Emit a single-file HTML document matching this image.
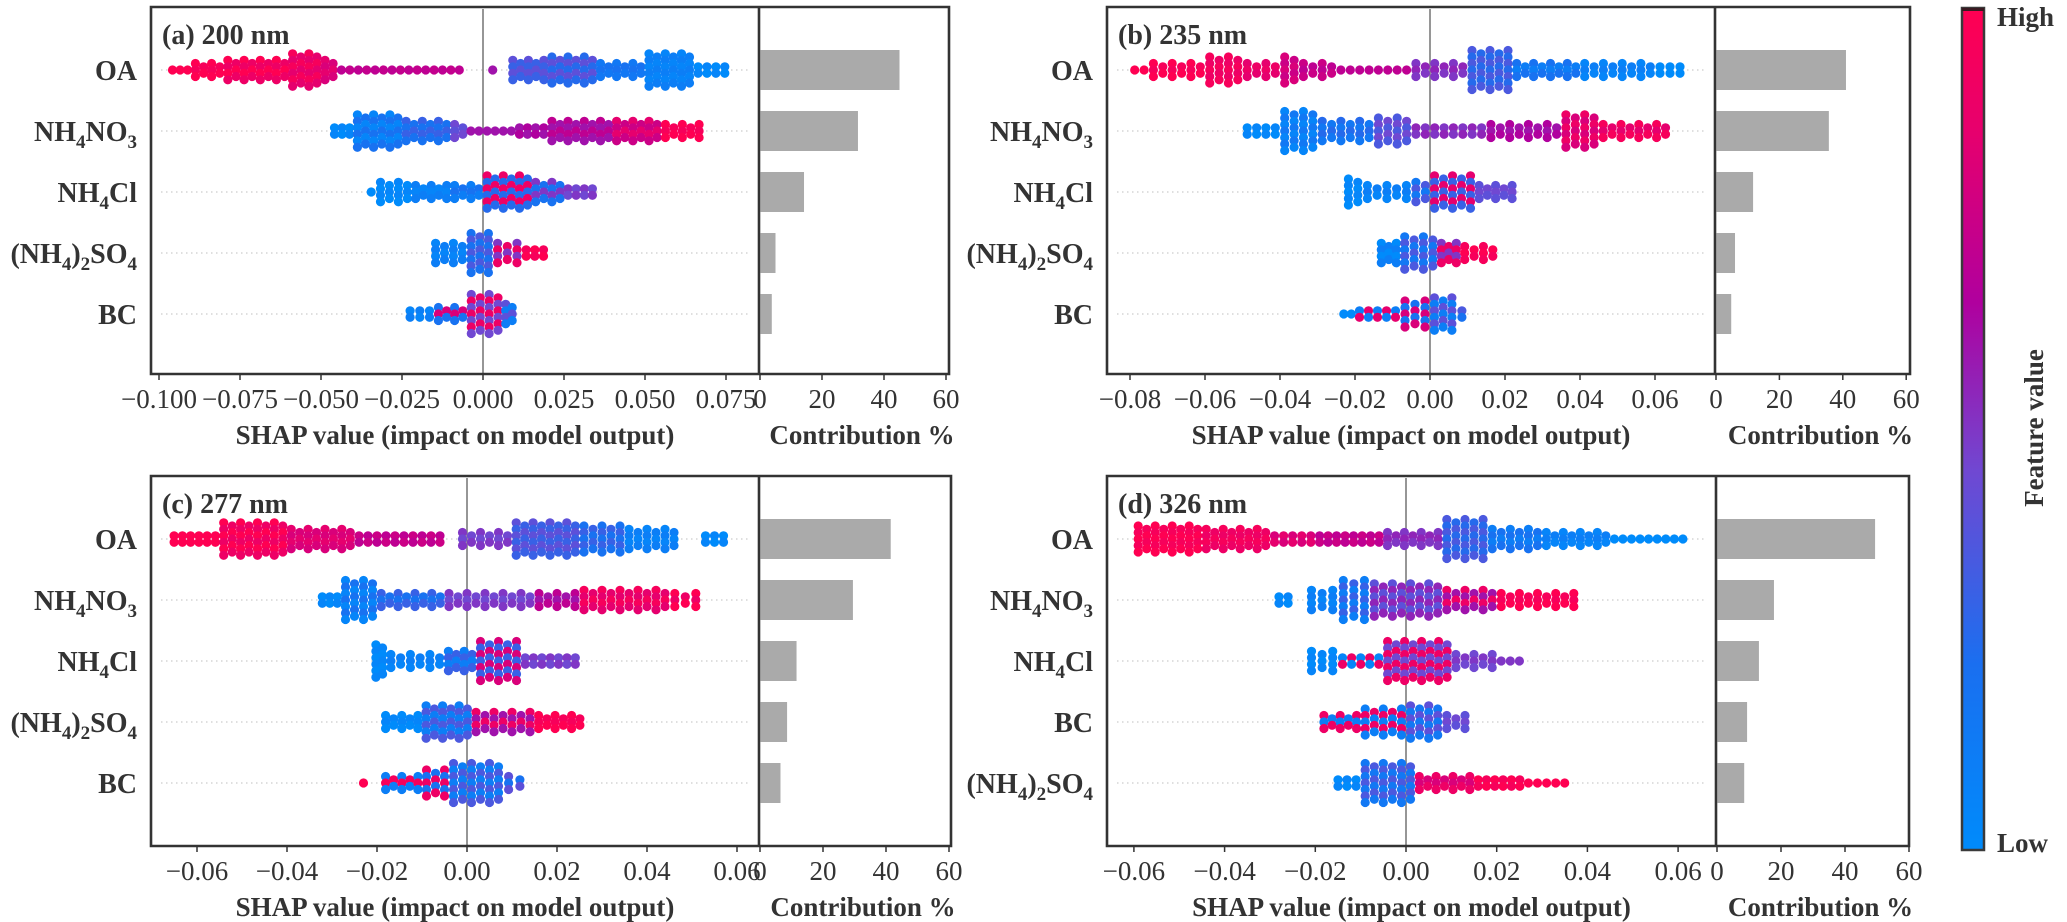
<!DOCTYPE html>
<html><head><meta charset="utf-8">
<style>
html,body{margin:0;padding:0;background:#fff;}
svg{display:block;font-family:"Liberation Serif",serif;}
</style></head>
<body>
<svg id="fig" width="2067" height="922" viewBox="0 0 2067 922" xmlns="http://www.w3.org/2000/svg">
<defs>
<linearGradient id="cmap" x1="0" y1="1" x2="0" y2="0">
<stop offset="0" stop-color="#008bfb"/>
<stop offset="0.22" stop-color="#1a6ff0"/>
<stop offset="0.45" stop-color="#7048d2"/>
<stop offset="0.65" stop-color="#b0009e"/>
<stop offset="0.85" stop-color="#e6006e"/>
<stop offset="1" stop-color="#ff0052"/>
</linearGradient>
</defs>
<g id="root"></g>
<g>
<rect x="1962" y="8" width="22" height="842" fill="url(#cmap)" stroke="#3a3a3a" stroke-width="2.5"/>
<rect x="1962" y="8" width="22" height="3" fill="#3a1a22"/>
<text x="1997" y="26" font-size="27" font-weight="bold" fill="#333">High</text>
<text x="1997" y="852" font-size="27" font-weight="bold" fill="#333">Low</text>
<text x="2043" y="428" font-size="27" font-weight="bold" fill="#333" text-anchor="middle" transform="rotate(-90 2043 428)">Feature value</text>
</g>
</svg>
<script>
// ---------- data ----------
const featuresA = ["OA","NH4NO3","NH4Cl","(NH4)2SO4","BC"];
const featuresB = ["OA","NH4NO3","NH4Cl","(NH4)2SO4","BC"];
const featuresC = ["OA","NH4NO3","NH4Cl","(NH4)2SO4","BC"];
const featuresD = ["OA","NH4NO3","NH4Cl","BC","(NH4)2SO4"];

const contribA = [45, 31.6, 14.2, 5, 3.8];
const contribB = [41, 35.6, 11.7, 6, 4.8];
const contribC = [41.5, 29.5, 11.6, 8.6, 6.5];
const contribD = [49.4, 17.8, 13.1, 9.4, 8.5];

const shapTicksA = [-0.1,-0.075,-0.05,-0.025,0,0.025,0.05,0.075];
const shapTickLabelsA = ["\u22120.100","\u22120.075","\u22120.050","\u22120.025","0.000","0.025","0.050","0.075"];
const shapTicksB = [-0.08,-0.06,-0.04,-0.02,0,0.02,0.04,0.06];
const shapTickLabelsB = ["\u22120.08","\u22120.06","\u22120.04","\u22120.02","0.00","0.02","0.04","0.06"];
const shapTicksC = [-0.06,-0.04,-0.02,0,0.02,0.04,0.06];
const shapTickLabelsC = ["\u22120.06","\u22120.04","\u22120.02","0.00","0.02","0.04","0.06"];
const shapTicksD = [-0.06,-0.04,-0.02,0,0.02,0.04,0.06];
const shapTickLabelsD = ["\u22120.06","\u22120.04","\u22120.02","0.00","0.02","0.04","0.06"];
const contribTicks = [0,20,40,60];

// beeswarm density segments: [shapFrom, shapTo, stackCount, featureValueA, featureValueB]
const swarmA = [
 [[-0.097,-0.09,1,1,1],[-0.09,-0.08,3,1,0.95],[-0.08,-0.06,4,1,0.9],[-0.06,-0.05,6,0.95,0.85],[-0.05,-0.045,4,0.85,0.8],[-0.045,-0.006,1,0.7,0.72],[0.002,0.004,1,0.6,0.6],[0.008,0.02,4,0.4,0.3],[0.02,0.035,5,0.25,0.4],[0.035,0.05,3,0.15,0.2],[0.05,0.065,6,0.05,0.1],[0.065,0.076,2,0,0.05]],
 [[-0.047,-0.04,2,0,0.05],[-0.04,-0.025,6,0.05,0.2],[-0.025,-0.01,4,0.3,0.2],[-0.01,-0.005,3,0.45,0.4],[-0.005,0.01,1,0.6,0.6],[0.01,0.02,2,0.6,0.65],[0.02,0.04,4,0.7,0.6],[0.04,0.055,4,0.85,0.75],[0.055,0.068,3,1,0.95]],
 [[-0.036,-0.033,1,0,0],[-0.033,-0.022,4,0.05,0],[-0.022,-0.01,3,0.1,0.05],[-0.01,0,3,0.1,0.2],[0,0.015,6,0.9,0.25],[0.015,0.025,4,0.5,0.2],[0.025,0.035,2,0.5,0.45]],
 [[-0.016,-0.005,4,0.05,0.1],[-0.005,0.003,7,0.2,0.35],[0.003,0.012,4,0.5,0.9],[0.012,0.02,2,0.95,1]],
 [[-0.024,-0.015,2,0.05,0.1],[-0.015,-0.005,3,0.2,0.8],[-0.005,0.006,7,0.45,0.9],[0.006,0.01,4,0.4,0.1]]
];
const swarmB = [
 [[-0.08,-0.075,1,1,1],[-0.075,-0.06,3,1,0.95],[-0.06,-0.05,5,0.95,0.9],[-0.05,-0.04,3,0.85,0.9],[-0.04,-0.035,5,0.8,0.75],[-0.035,-0.025,3,0.75,0.7],[-0.025,-0.005,1,0.7,0.7],[-0.005,0.01,3,0.5,0.55],[0.01,0.022,7,0.35,0.25],[0.022,0.04,3,0.2,0.1],[0.04,0.06,3,0.05,0.1],[0.06,0.068,2,0,0]],
 [[-0.05,-0.04,2,0,0.05],[-0.04,-0.03,7,0.05,0.15],[-0.03,-0.015,4,0.25,0.15],[-0.015,-0.005,5,0.35,0.45],[-0.005,0.015,2,0.55,0.5],[0.015,0.035,3,0.65,0.6],[0.035,0.045,6,0.9,0.8],[0.045,0.064,3,0.95,0.85]],
 [[-0.023,-0.018,5,0,0.05],[-0.018,-0.005,3,0.05,0.1],[-0.005,0,4,0.15,0.35],[0,0.012,6,0.85,0.3],[0.012,0.023,3,0.4,0.45]],
 [[-0.014,-0.008,4,0,0.1],[-0.008,0.002,6,0.15,0.35],[0.002,0.008,4,0.5,0.9],[0.008,0.018,3,0.95,1]],
 [[-0.024,-0.02,1,0,0],[-0.02,-0.008,2,0.1,0.85],[-0.008,0,5,0.8,0.2],[0,0.007,6,0.4,0.1],[0.007,0.01,2,0.35,0.2]]
];
const swarmC = [
 [[-0.066,-0.055,2,1,1],[-0.055,-0.04,6,1,0.9],[-0.04,-0.025,4,0.85,0.8],[-0.025,-0.005,2,0.75,0.7],[-0.002,0.01,3,0.5,0.45],[0.01,0.025,6,0.4,0.3],[0.025,0.035,5,0.2,0.3],[0.035,0.047,4,0.05,0.1],[0.052,0.058,2,0,0.05]],
 [[-0.033,-0.028,2,0,0.05],[-0.028,-0.02,7,0.05,0.2],[-0.02,-0.005,3,0.3,0.2],[-0.005,0.015,3,0.5,0.45],[0.015,0.025,3,0.7,0.6],[0.025,0.045,4,0.95,0.85],[0.045,0.052,3,1,0.9]],
 [[-0.021,-0.018,6,0,0.05],[-0.018,-0.005,3,0.05,0.1],[-0.005,0.002,4,0.1,0.3],[0.002,0.012,7,0.8,0.3],[0.012,0.025,2,0.45,0.5]],
 [[-0.019,-0.01,3,0,0.05],[-0.01,0.001,6,0.1,0.35],[0.001,0.015,4,0.9,0.6],[0.015,0.026,3,1,0.95]],
 [[-0.024,-0.022,1,1,1],[-0.019,-0.01,3,0.1,0.95],[-0.01,-0.004,5,0.9,0.2],[-0.004,0.008,7,0.35,0.1],[0.008,0.013,3,0.4,0.2]]
];
const swarmD = [
 [[-0.06,-0.045,5,1,0.95],[-0.045,-0.03,4,0.95,0.9],[-0.03,-0.02,2,0.8,0.85],[-0.02,-0.005,2,0.7,0.75],[-0.005,0.008,3,0.5,0.55],[0.008,0.018,7,0.35,0.25],[0.018,0.03,4,0.1,0.2],[0.03,0.045,3,0.05,0.1],[0.045,0.062,1,0,0]],
 [[-0.029,-0.025,2,0,0.05],[-0.022,-0.015,4,0.05,0.1],[-0.015,-0.008,7,0.1,0.3],[-0.008,0.008,6,0.4,0.55],[0.008,0.02,4,0.9,0.6],[0.02,0.038,3,1,0.95]],
 [[-0.022,-0.015,4,0,0.05],[-0.015,-0.005,2,0.05,0.9],[-0.005,0.01,7,0.9,0.45],[0.01,0.02,3,0.45,0.5],[0.02,0.026,1,0.5,0.5]],
 [[-0.019,-0.01,3,0.9,0.1],[-0.01,0,5,0.1,0.9],[0,0.008,6,0.4,0.15],[0.008,0.014,3,0.4,0.45]],
 [[-0.016,-0.01,2,0,0.05],[-0.01,0.002,7,0.15,0.35],[0.002,0.015,3,0.9,0.8],[0.015,0.026,2,1,0.95],[0.026,0.036,1,1,1]]
];

// ---------- layout (not data) ----------
const NS = "http://www.w3.org/2000/svg";
const root = document.getElementById('root');
const panels = [
 {id:'a', title:'(a) 200 nm', feats:featuresA, contrib:contribA, ticks:shapTicksA, tl:shapTickLabelsA, swarm:swarmA,
  left:151, sep:759, right:949, top:7, bottom:374, zero:483, ppu:3240, step:0.0026, cppu:3.1},
 {id:'b', title:'(b) 235 nm', feats:featuresB, contrib:contribB, ticks:shapTicksB, tl:shapTickLabelsB, swarm:swarmB,
  left:1107, sep:1715, right:1910, top:7, bottom:374, zero:1430, ppu:3750, step:0.0024, cppu:3.17},
 {id:'c', title:'(c) 277 nm', feats:featuresC, contrib:contribC, ticks:shapTicksC, tl:shapTickLabelsC, swarm:swarmC,
  left:151, sep:759, right:951, top:476, bottom:846, zero:467, ppu:4500, step:0.002, cppu:3.15},
 {id:'d', title:'(d) 326 nm', feats:featuresD, contrib:contribD, ticks:shapTicksD, tl:shapTickLabelsD, swarm:swarmD,
  left:1107, sep:1716, right:1909, top:476, bottom:846, zero:1406, ppu:4535, step:0.002, cppu:3.2}
];
const stops = [[0,[0,139,251]],[0.22,[26,111,240]],[0.45,[112,72,210]],[0.65,[176,0,158]],[0.85,[230,0,110]],[1,[255,0,82]]];
function cmap(v){
  for(let i=1;i<stops.length;i++){
    if(v<=stops[i][0]){
      const a=stops[i-1], b=stops[i], t=(v-a[0])/(b[0]-a[0]);
      const c=a[1].map((x,k)=>Math.round(x+(b[1][k]-x)*t));
      return 'rgb('+c.join(',')+')';
    }
  }
  return 'rgb(255,0,82)';
}
function mk(tag, attrs, parent){
  const e=document.createElementNS(NS,tag);
  for(const k in attrs) e.setAttribute(k, attrs[k]);
  (parent||root).appendChild(e);
  return e;
}
function labelText(g, name, x, y){
  const t=mk('text',{x:x,y:y,'text-anchor':'end','font-size':28,'font-weight':'bold',fill:'#333'},g);
  
  
  const parts = name.match(/\d+|[^\d]+/g);
  parts.forEach(p=>{
    const s=document.createElementNS(NS,'tspan');
    s.textContent=p;
    if(/^\d+$/.test(p)){ s.setAttribute('font-size','19'); s.setAttribute('dy','7'); }
    else if(t.childNodes.length && /^\d+$/.test(t.lastChild.textContent)){ s.setAttribute('dy','-7'); }
    t.appendChild(s);
  });
}

panels.forEach(P=>{
  const g=mk('g',{});
  
  
  const sx = v => P.zero + v*P.ppu;
  const cx = v => P.sep + 1 + v*P.cppu;
  const rowY = i => P.top + 63 + i*61;

  P.feats.forEach((f,i)=>{
    const l=mk('line',{x1:P.left+10,x2:P.sep-10,y1:rowY(i),y2:rowY(i),stroke:'#ccc','stroke-width':1.2,'stroke-dasharray':'1.5 3.5'},g);
    
    
    labelText(g, f, P.left-14, rowY(i)+10);
  });
  const z=mk('line',{x1:sx(0),x2:sx(0),y1:P.top+2,y2:P.bottom,stroke:'#8a8a8a','stroke-width':1.8},g);
  
  

  P.swarm.forEach((segs,i)=>{
    const y0=rowY(i);
    segs.forEach(s=>{
      const [a,b,n,c1,c2]=s;
      const cols=Math.max(1,Math.round((b-a)/P.step));
      for(let k=0;k<cols;k++){
        const v=a+(k+0.5)*(b-a)/cols;
        const cnt = (n>2 && k%2===1) ? n-1 : n;
        for(let j=0;j<cnt;j++){
          const dy=(j-(cnt-1)/2)*6.5;
          const d=mk('circle',{cx:sx(v).toFixed(1),cy:(y0+dy).toFixed(1),r:4.6,fill:cmap((j+k)%2===0?c1:c2)},g);
          
          
        }
      }
    });
  });

  P.contrib.forEach((c,i)=>{
    const r=mk('rect',{x:P.sep+1.5,y:rowY(i)-20,width:cx(c)-P.sep-1.5,height:40,fill:'#aaaaaa'},g);
    
    
  });

  const fr=mk('path',{d:`M${P.left},${P.top} H${P.right} V${P.bottom} H${P.left} Z M${P.sep},${P.top} V${P.bottom}`,fill:'none',stroke:'#333','stroke-width':2.6},g);
  
  

  P.ticks.forEach((t,i)=>{
    const tk=mk('line',{x1:sx(t),x2:sx(t),y1:P.bottom,y2:P.bottom+6,stroke:'#333','stroke-width':1.5},g);
    
    
    const tl=mk('text',{x:sx(t),y:P.bottom+34,'text-anchor':'middle','font-size':27,fill:'#333'},g);
    tl.textContent=P.tl[i];
    
    
  });
  contribTicks.forEach(t=>{
    const tk=mk('line',{x1:cx(t),x2:cx(t),y1:P.bottom,y2:P.bottom+6,stroke:'#333','stroke-width':1.5},g);
    
    
    const tl=mk('text',{x:cx(t),y:P.bottom+34,'text-anchor':'middle','font-size':27,fill:'#333'},g);
    tl.textContent=String(t);
    
    
  });

  const xl=mk('text',{x:(P.left+P.sep)/2,y:P.bottom+70,'text-anchor':'middle','font-size':27,'font-weight':'bold',fill:'#333'},g);
  xl.textContent='SHAP value (impact on model output)';
  
  
  const cl=mk('text',{x:(P.sep+P.right)/2+8,y:P.bottom+70,'text-anchor':'middle','font-size':27,'font-weight':'bold',fill:'#333'},g);
  cl.textContent='Contribution %';
  
  
  const ti=mk('text',{x:P.left+11,y:P.top+37,'font-size':28,'font-weight':'bold',fill:'#333'},g);
  ti.textContent=P.title;
  
  
});
</script>
</body></html>
